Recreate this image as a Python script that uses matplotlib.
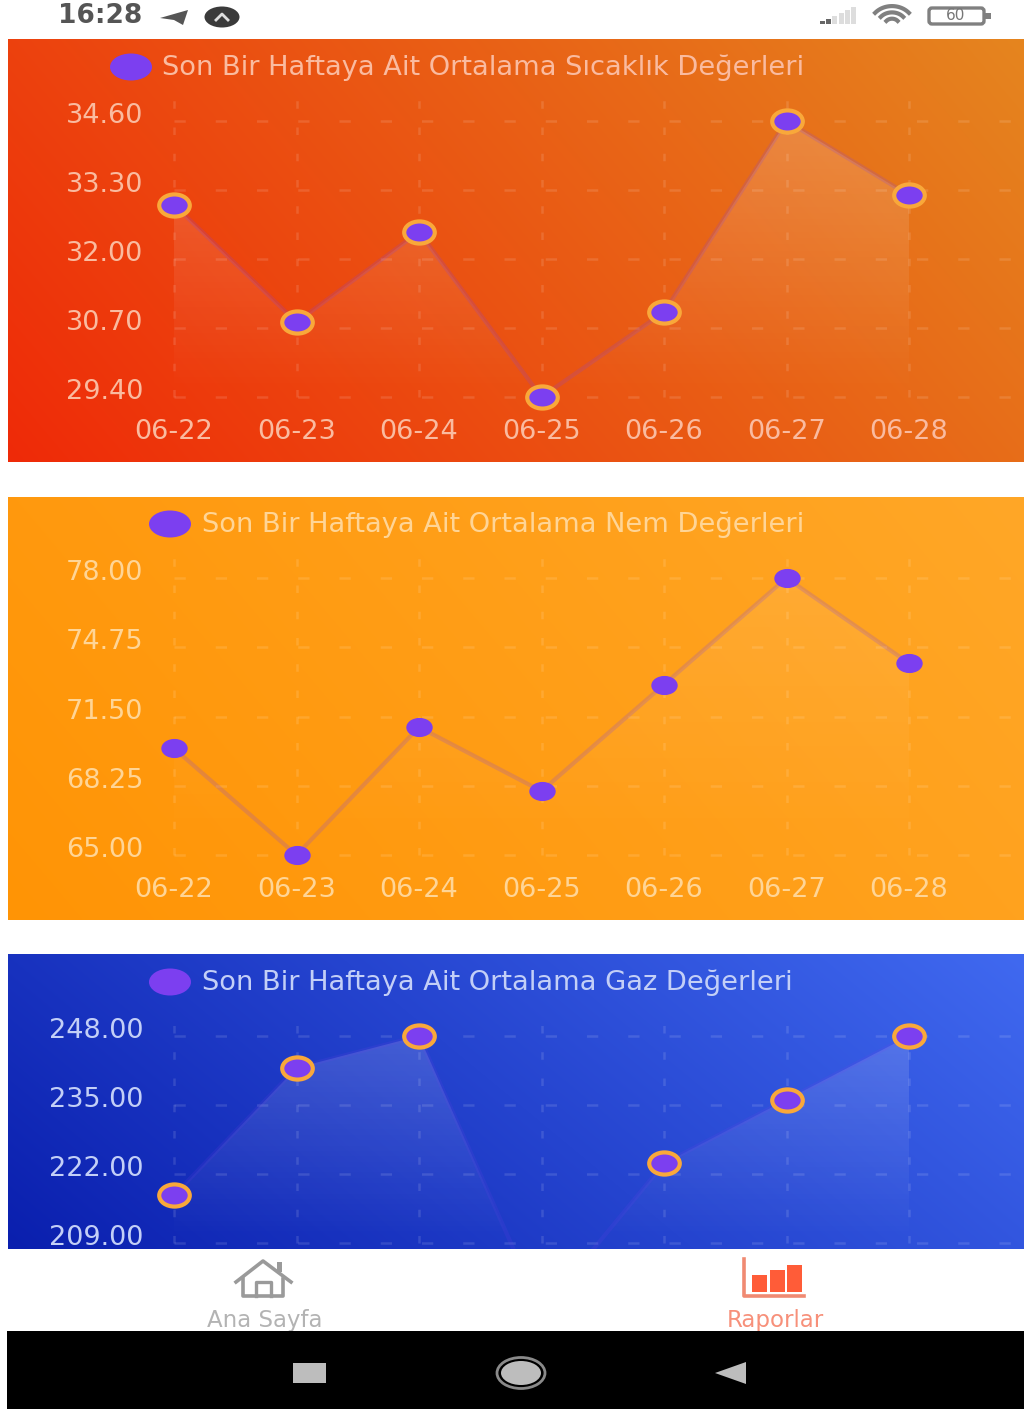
import numpy as np
import matplotlib
matplotlib.use("Agg")
import matplotlib.pyplot as plt
from matplotlib.patches import Ellipse, Rectangle, Polygon, FancyBboxPatch
from matplotlib.path import Path
from matplotlib.transforms import Affine2D, ScaledTranslation
from matplotlib.colors import to_rgb

plt.rcParams['font.family'] = ['DejaVu Sans']

dates = ['06-22', '06-23', '06-24', '06-25', '06-26', '06-27', '06-28']
temperature = [33.02, 30.81, 32.51, 29.40, 31.00, 34.60, 33.20]
humidity = [70, 65, 71, 68, 73, 78, 74]
gas = [218, 242, 248, 196, 224, 236, 248]
temp_ticks = [29.40, 30.70, 32.00, 33.30, 34.60]
hum_ticks = [65.00, 68.25, 71.50, 74.75, 78.00]
gas_ticks = [209.00, 222.00, 235.00, 248.00]
titles = ['Son Bir Haftaya Ait Ortalama Sıcaklık Değerleri',
          'Son Bir Haftaya Ait Ortalama Nem Değerleri',
          'Son Bir Haftaya Ait Ortalama Gaz Değerleri']

W, H = 1024, 1409
fig = plt.figure(figsize=(W / 100, H / 100), dpi=100, facecolor='white')
bg = fig.add_axes([0, 0, 1, 1], zorder=0)
bg.set_xlim(0, W); bg.set_ylim(H, 0); bg.axis('off')

PURPLE = '#7C3FF0'
RING = '#F9A83A'
oval = Path.unit_circle().transformed(Affine2D().scale(1.38, 1.0))


def gradient(x0, x1, y0, y1, c_bl, c_tr):
    n = 200
    u = np.linspace(0, 1, n)[None, :]
    v = np.linspace(0, 1, n)[:, None]
    t = (0.74 * u + 0.26 * v)[..., None]
    img = np.array(to_rgb(c_bl)) * (1 - t) + np.array(to_rgb(c_tr)) * t
    bg.imshow(img, extent=(x0, x1, y1, y0), origin='lower', aspect='auto',
              interpolation='bilinear', zorder=1)


def panel(values, ticks, tick_top_px, tick_bot_px, box_top, box_bot, txt, ring, line_alpha,
          fill_alpha, show_x):
    left, right = 148, 1024
    ax = fig.add_axes([left / W, 1 - box_bot / H, (right - left) / W, (box_bot - box_top) / H], zorder=2)
    ax.patch.set_alpha(0)
    for s in ax.spines.values():
        s.set_visible(False)
    step = (909 - 174) / 6
    xlim = ((left - 174) / step, (right - 174) / step)
    per_px = (ticks[-1] - ticks[0]) / (tick_bot_px - tick_top_px)
    ylim = (ticks[0] - (box_bot - tick_bot_px) * per_px, ticks[-1] + (tick_top_px - box_top) * per_px)
    x = np.arange(len(values))
    base = min(ticks[0], min(values))
    ax.hlines(ticks, 0, xlim[1], color='white', alpha=0.12, lw=1.8,
              linestyles=(0, (4.5, 12)), zorder=1)
    grid_top = ticks[-1] + 26 * per_px
    ax.vlines(x, ticks[0], grid_top, color='white', alpha=0.12, lw=1.8,
              linestyles=(0, (3, 7.5)), zorder=1)
    poly = ax.fill_between(x, values, base, color='none', zorder=2)
    grad = np.linspace(0.0, 1, 100)
    rgba = np.ones((100, 1, 4))
    rgba[:, 0, 3] = grad * fill_alpha
    im = ax.imshow(rgba, extent=(0, 6, ticks[0], max(values)), origin='lower', aspect='auto', zorder=2,
                   interpolation='bilinear')
    im.set_clip_path(poly.get_paths()[0], transform=ax.transData)
    ax.set_xlim(xlim)
    ax.set_ylim(ylim)
    ax.plot(x, values, color=PURPLE, alpha=line_alpha, lw=3, zorder=3)
    ax.plot(x, values, ls='none', marker=oval, ms=22 if ring else 19, mfc=PURPLE,
            mec=RING if ring else 'none', mew=3 if ring else 0, zorder=4)
    ax.set_yticks(ticks, [f'{t:.2f}' for t in ticks])
    ax.set_xticks(x, dates)
    ax.tick_params(length=0)
    ax.tick_params(axis='y', pad=3.5, labelsize=19.5, labelcolor=txt)
    ax.tick_params(axis='x', pad=0.5, labelsize=19.5, labelcolor=txt, labelbottom=show_x)
    off = ScaledTranslation(0, 8 / 100, fig.dpi_scale_trans)
    for lab in ax.get_yticklabels():
        lab.set_transform(lab.get_transform() + off)
    return ax


gradient(8, W, 39, 462, '#EF2A08', '#E5851F')
gradient(8, W, 497, 920, '#FF9405', '#FFA727')
gradient(8, W, 954, 1249, '#0A1FAE', '#4069F0')

panel(temperature, temp_ticks, 121, 397, 90, 418, '#FABBA0', True, 0.18, 0.17, True)
panel(humidity, hum_ticks, 578, 855, 548, 876, '#FFD596', False, 0.2, 0.09, True)
panel(gas, gas_ticks, 1036, 1243, 1005, 1249, '#C3CFF7', True, 0.12, 0.15, False)

for cx, cy, tx, s, col in [(131, 67, 162, titles[0], '#FABBA0'),
                           (170, 524, 202, titles[1], '#FFD596'),
                           (170, 982, 202, titles[2], '#C3CFF7')]:
    bg.add_patch(Ellipse((cx, cy), 42, 27, fc=PURPLE, ec='none', zorder=3))
    bg.text(tx, cy + 1, s, color=col, fontsize=19.6, va='center', ha='left', zorder=3)

STAT = '#555555'
bg.text(58, 16, '16:28', color=STAT, fontsize=19, fontweight='bold', va='center', ha='left')
bg.add_patch(Polygon([(160, 18), (188, 10), (183, 25), (174, 20)], fc=STAT, ec='none'))
bg.add_patch(Ellipse((222, 17), 35, 21, fc='#3A3A3A', ec='none'))
bg.plot([216, 222, 228], [20, 14, 20], color='#DDDDDD', lw=2)
for i, hh in enumerate([3, 5, 8, 11, 14, 17]):
    bg.add_patch(Rectangle((820 + i * 6.2, 24 - hh), 5, hh, fc='#666666' if i < 2 else '#DDDDDD', ec='none'))
for r, lw in [(21, 3), (14, 3), (7, 3)]:
    theta = np.radians(np.linspace(40, 140, 30))
    bg.plot(892 + r * np.cos(theta) * 1.05, 25 - r * np.sin(theta) * 0.9, color='#808080', lw=lw)
bg.add_patch(FancyBboxPatch((929, 8), 55, 16, boxstyle='round,pad=0,rounding_size=3',
                            fc='none', ec='#808080', lw=2.4))
bg.add_patch(Rectangle((985, 13), 6, 6, fc='#808080', ec='none'))
bg.text(956, 16, '60', color='#777777', fontsize=11, ha='center', va='center')

GR = '#9A9A9A'
bg.plot([236, 263, 291], [1282, 1261, 1282], color=GR, lw=2.6)
bg.plot([243, 243, 283, 283], [1279, 1296, 1296, 1279], color=GR, lw=2.6)
bg.plot([256, 256, 271, 271], [1296, 1282, 1282, 1296], color=GR, lw=2.4)
bg.add_patch(Rectangle((277, 1262), 5, 10, fc=GR, ec='none'))
bg.text(265, 1320, 'Ana Sayfa', color='#B3B3B3', fontsize=16.5, ha='center', va='center')
RED = '#FF5C38'
bg.plot([744, 744, 804], [1259, 1296, 1296], color='#F08A72', lw=2.6)
for bx, bt in [(752, 1275), (770, 1270), (787, 1265)]:
    bg.add_patch(Rectangle((bx, bt), 15, 1292 - bt, fc=RED, ec='none'))
bg.text(775, 1320, 'Raporlar', color='#F7907A', fontsize=16.5, ha='center', va='center')

bg.add_patch(Rectangle((7, 1331), W - 7, H - 1331, fc='black', ec='none', zorder=5))
NAV = '#BDBDBD'
bg.add_patch(Rectangle((293, 1363), 33, 20, fc=NAV, ec='none', zorder=6))
bg.add_patch(Ellipse((521, 1373), 40, 24, fc=NAV, ec='none', zorder=6))
bg.add_patch(Ellipse((521, 1373), 48, 31, fc='none', ec='#8A8A8A', lw=2, zorder=6))
bg.add_patch(Polygon([(715, 1373), (746, 1362), (746, 1384)], fc=NAV, ec='none', zorder=6))

bg.set_xlim(0, W); bg.set_ylim(H, 0)
fig.savefig('out.png', dpi=100)
